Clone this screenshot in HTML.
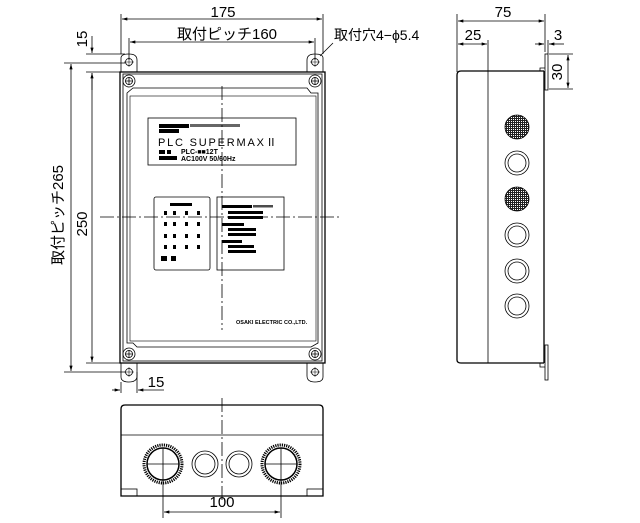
<!DOCTYPE html>
<html><head><meta charset="utf-8"><style>
html,body{margin:0;padding:0;background:#fff;}
svg{display:block;}
text{font-family:"Liberation Sans","Noto Sans CJK JP",sans-serif;fill:#000;}
</style></head><body>
<svg width="640" height="523" viewBox="0 0 640 523" xmlns="http://www.w3.org/2000/svg">
<defs>
<marker id="a" viewBox="0 0 10 6" refX="10" refY="3" markerWidth="8" markerHeight="4" orient="auto-start-reverse"><path d="M0,0L10,3L0,6z" fill="#000"/></marker>
<pattern id="h" width="2" height="2" patternUnits="userSpaceOnUse"><rect width="2" height="2" fill="#fff"/><rect width="2" height="1" fill="#222"/><rect width="1" height="2" fill="#222"/></pattern>
</defs>
<g fill="none" stroke="#000" stroke-width="0.8">
<line x1="121" y1="14" x2="121" y2="54"/><line x1="323" y1="14" x2="323" y2="54"/>
<line x1="122" y1="19" x2="322" y2="19" marker-start="url(#a)" marker-end="url(#a)"/>
<line x1="129" y1="38" x2="129" y2="60"/><line x1="315" y1="38" x2="315" y2="60"/>
<line x1="130" y1="42" x2="314" y2="42" marker-start="url(#a)" marker-end="url(#a)"/>
<line x1="320" y1="56" x2="333" y2="43"/>
<line x1="64" y1="63" x2="125" y2="63"/><line x1="64" y1="372" x2="125" y2="372"/>
<line x1="71" y1="64" x2="71" y2="371" marker-start="url(#a)" marker-end="url(#a)"/>
<line x1="86" y1="54" x2="125" y2="54"/><line x1="86" y1="72" x2="120" y2="72"/><line x1="86" y1="363" x2="120" y2="363"/>
<line x1="92" y1="73" x2="92" y2="362" marker-start="url(#a)" marker-end="url(#a)"/>
<line x1="92" y1="36" x2="92" y2="53" marker-end="url(#a)"/>
<line x1="92" y1="90" x2="92" y2="73"/>
<line x1="121" y1="382" x2="121" y2="393"/><line x1="137" y1="372" x2="137" y2="393"/>
<line x1="112" y1="390" x2="120" y2="390" marker-end="url(#a)"/>
<line x1="164" y1="390" x2="138" y2="390" marker-end="url(#a)"/>
<path d="M121,72 V58 Q121,54 129,54 Q137,54 137,60 V72"/>
<path d="M307,72 V60 Q307,54 315,54 Q323,54 323,58 V72"/>
<circle cx="129" cy="62" r="3.5"/><path d="M124,62h10M129,57v10" stroke-width="0.5"/>
<circle cx="315" cy="62" r="3.5"/><path d="M310,62h10M315,57v10" stroke-width="0.5"/>
<path d="M121,363 V377 Q121,382 129,382 Q137,382 137,376 V363"/>
<path d="M307,363 V376 Q307,382 315,382 Q323,382 323,377 V363"/>
<circle cx="129" cy="372" r="3.5"/><path d="M124,372h10M129,367v10" stroke-width="0.5"/>
<circle cx="315" cy="372" r="3.5"/><path d="M310,372h10M315,367v10" stroke-width="0.5"/>
<rect x="120" y="72" width="205" height="291" stroke-width="1.3"/>
<rect x="123" y="74" width="199" height="287"/>
<path d="M137,88 H307 L311,93 H318 V343 L311,347 H137 L133,343 H127 V93 L133,88z" stroke-width="0.8"/>
<rect x="130" y="96" width="186" height="245" stroke-width="0.6"/>
<g>
<circle cx="129" cy="81" r="6"/><circle cx="129" cy="81" r="3.5"/><path d="M125,81h8M129,77v8"/>
<circle cx="315" cy="81" r="6"/><circle cx="315" cy="81" r="3.5"/><path d="M311,81h8M315,77v8"/>
<circle cx="129" cy="354" r="6"/><circle cx="129" cy="354" r="3.5"/><path d="M125,354h8M129,350v8"/>
<circle cx="315" cy="354" r="6"/><circle cx="315" cy="354" r="3.5"/><path d="M311,354h8M315,350v8"/>
</g>
<rect x="148" y="118" width="148" height="47"/>
<rect x="154" y="197" width="56" height="73" rx="2"/>
<rect x="217" y="197" width="67" height="73"/>
<line x1="222" y1="86" x2="222" y2="330" stroke-dasharray="14,3,2,3"/>
<line x1="100" y1="217" x2="342" y2="217" stroke-dasharray="14,3,2,3"/>
<line x1="457" y1="14" x2="457" y2="72"/><line x1="545" y1="14" x2="545" y2="52"/>
<line x1="458" y1="21" x2="544" y2="21" marker-start="url(#a)" marker-end="url(#a)"/>
<line x1="488" y1="40" x2="488" y2="363"/>
<line x1="458" y1="44" x2="487" y2="44" marker-start="url(#a)" marker-end="url(#a)"/>
<line x1="548" y1="40" x2="548" y2="54"/>
<line x1="535" y1="44" x2="544" y2="44" marker-end="url(#a)"/>
<line x1="564" y1="44" x2="549" y2="44" marker-end="url(#a)"/>
<line x1="549" y1="54" x2="573" y2="54"/><line x1="549" y1="89" x2="573" y2="89"/>
<line x1="568" y1="55" x2="568" y2="88" marker-start="url(#a)" marker-end="url(#a)"/>
<path d="M544,71 H461 Q457,71 457,75 V360 Q457,363 461,363 H544" stroke-width="1.3"/>
<line x1="544" y1="71" x2="544" y2="363" stroke-width="1.3"/>
<rect x="545" y="54" width="3" height="36"/>
<path d="M540,71 V68 H545"/>
<rect x="545" y="345" width="3" height="35"/>
<path d="M540,363 V367 H545"/>
<g stroke-width="0.8">
<circle cx="517" cy="163" r="12"/><circle cx="517" cy="163" r="9"/>
<circle cx="517" cy="235" r="12"/><circle cx="517" cy="235" r="9"/>
<circle cx="517" cy="271" r="12"/><circle cx="517" cy="271" r="9"/>
<circle cx="517" cy="306" r="12"/><circle cx="517" cy="306" r="9"/>
</g>
<circle cx="517" cy="127" r="12" fill="url(#h)"/>
<circle cx="517" cy="199" r="12" fill="url(#h)"/>
<path d="M121,496 V409 Q121,405 125,405 H319 Q323,405 323,409 V496 Z" stroke-width="1.3"/>
<line x1="121" y1="435" x2="323" y2="435"/>
<rect x="121" y="489" width="16" height="7"/><rect x="307" y="489" width="16" height="7"/>
<line x1="222" y1="398" x2="222" y2="500" stroke-dasharray="14,3,2,3"/>
<circle cx="163" cy="464" r="19" stroke-width="3" stroke-dasharray="1.2,1"/>
<circle cx="163" cy="464" r="16" stroke-width="1.5"/>
<circle cx="281" cy="464" r="19" stroke-width="3" stroke-dasharray="1.2,1"/>
<circle cx="281" cy="464" r="16" stroke-width="1.5"/>
<path d="M147,464h32M163,448v70M265,464h32M281,448v70"/>
<circle cx="205" cy="464" r="13"/><circle cx="205" cy="464" r="10"/>
<circle cx="239" cy="464" r="13"/><circle cx="239" cy="464" r="10"/>
<line x1="164" y1="512" x2="280" y2="512" marker-start="url(#a)" marker-end="url(#a)"/>
</g>
<g fill="#000">
<rect x="159" y="124" width="30" height="4"/><rect x="159" y="129" width="20" height="4"/>
<rect x="190" y="124" width="50" height="3" opacity="0.6"/>
<rect x="159" y="150" width="6" height="4"/><rect x="167" y="150" width="4" height="4"/>
<rect x="159" y="156" width="18" height="4"/>
</g>
<text x="158" y="146" font-size="11" letter-spacing="1.8">PLC SUPERMAXⅡ</text>
<text x="181" y="154" font-size="7" font-weight="bold">PLC-■■12T</text>
<text x="181" y="161" font-size="7" font-weight="bold">AC100V 50/60Hz</text>
<g fill="#000">
<rect x="170" y="203" width="22" height="3"/>
<rect x="164" y="211" width="3" height="4"/><rect x="173" y="211" width="3" height="4"/><rect x="185" y="211" width="3" height="4"/><rect x="197" y="211" width="3" height="4"/>
<rect x="164" y="222" width="3" height="4"/><rect x="173" y="222" width="3" height="4"/><rect x="185" y="222" width="3" height="4"/><rect x="197" y="222" width="3" height="4"/>
<rect x="164" y="234" width="3" height="4"/><rect x="173" y="234" width="3" height="4"/><rect x="185" y="234" width="3" height="4"/><rect x="197" y="234" width="3" height="4"/>
<rect x="164" y="245" width="3" height="4"/><rect x="173" y="245" width="3" height="4"/><rect x="185" y="245" width="3" height="4"/><rect x="197" y="245" width="3" height="4"/>
<rect x="161" y="256" width="6" height="5"/><rect x="171" y="256" width="5" height="5"/>
<rect x="222" y="205" width="30" height="3"/><rect x="253" y="205" width="20" height="2.5" opacity="0.7"/>
<rect x="228" y="211" width="35" height="3"/><rect x="228" y="216" width="35" height="3"/>
<rect x="222" y="223" width="22" height="3"/><rect x="228" y="228" width="28" height="3"/><rect x="228" y="233" width="28" height="3"/>
<rect x="222" y="240" width="20" height="3"/><rect x="228" y="245" width="26" height="3"/><rect x="228" y="250" width="28" height="3"/>
</g>
<text x="236" y="324" font-size="5.5" font-weight="bold">OSAKI ELECTRIC CO.,LTD.</text>
<text x="223" y="17" font-size="15" text-anchor="middle">175</text>
<text x="227" y="39" font-size="15" text-anchor="middle">取付ピッチ160</text>
<text x="334" y="40" font-size="14">取付穴4−ϕ5.4</text>
<text font-size="15" text-anchor="middle" transform="translate(63,215) rotate(-90)">取付ピッチ265</text>
<text font-size="15" text-anchor="middle" transform="translate(87,224) rotate(-90)">250</text>
<text font-size="15" text-anchor="middle" transform="translate(87,39) rotate(-90)">15</text>
<text x="156" y="387" font-size="15" text-anchor="middle">15</text>
<text x="222" y="507" font-size="15" text-anchor="middle">100</text>
<text x="503" y="17" font-size="15" text-anchor="middle">75</text>
<text x="473" y="40" font-size="15" text-anchor="middle">25</text>
<text x="558" y="40" font-size="15" text-anchor="middle">3</text>
<text font-size="15" text-anchor="middle" transform="translate(562,72) rotate(-90)">30</text>
</svg>
</body></html>
